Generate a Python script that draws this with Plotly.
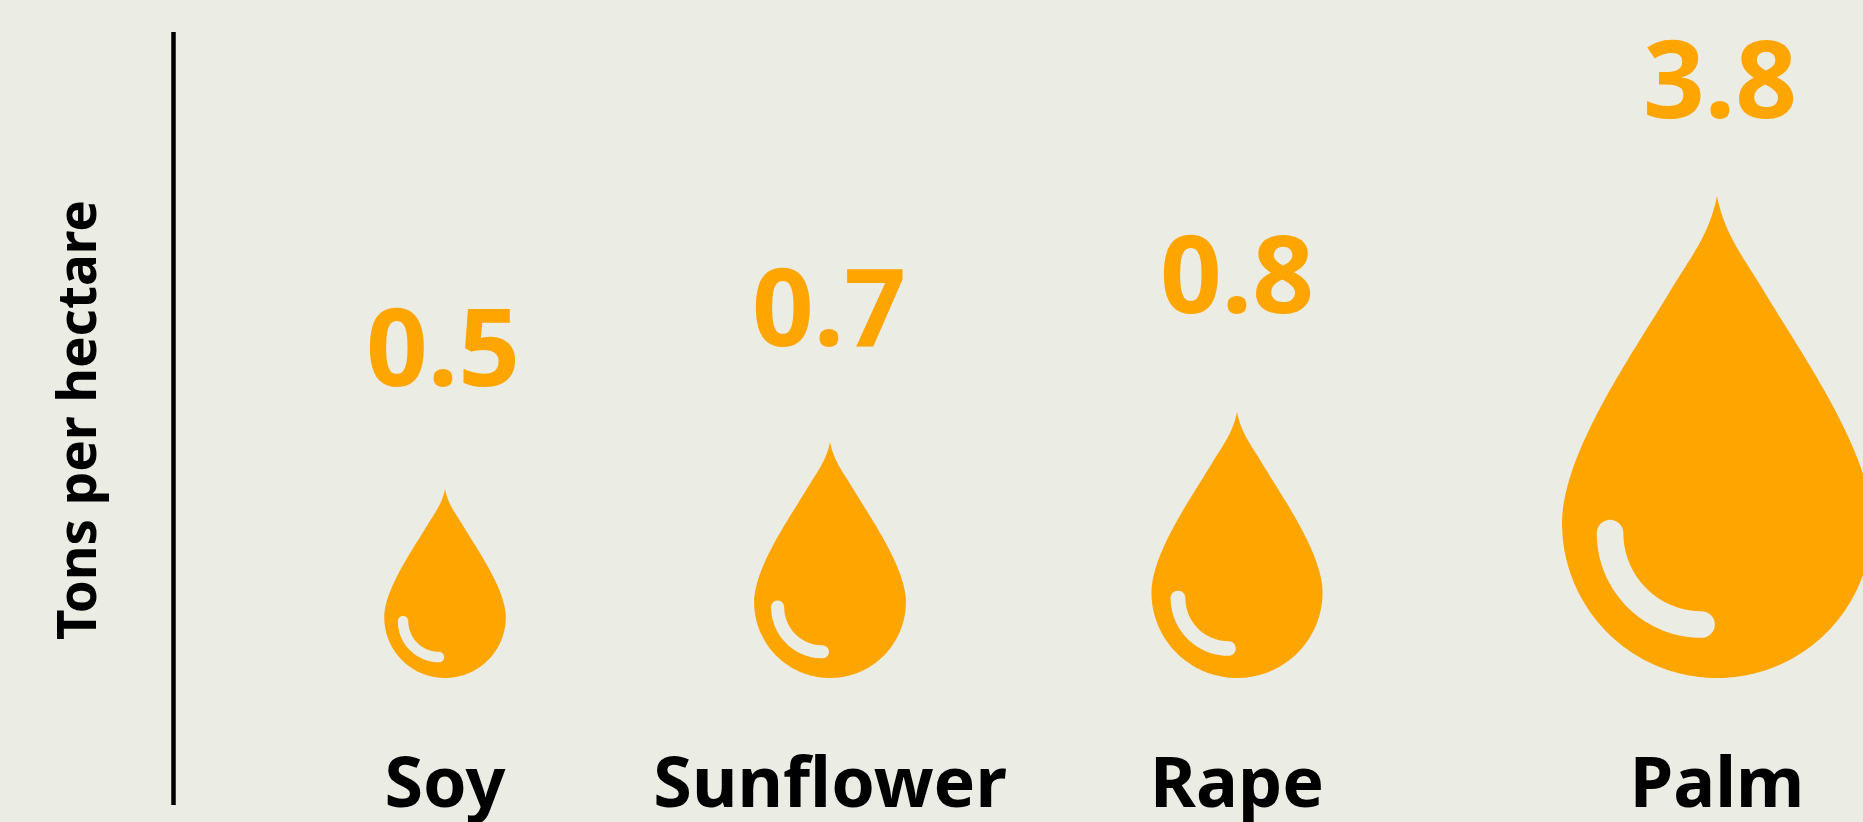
import numpy as np
import plotly.graph_objects as go

# ---- data ----
categories = ["Soy", "Sunflower", "Rape", "Palm"]
values = [0.5, 0.7, 0.8, 3.8]
value_labels = ["0.5", "0.7", "0.8", "3.8"]
axis_title = "Tons per hectare"

# ---- layout / drawing constants (pixel-like axis units) ----
W, H = 1863, 822
BG = "#EBECE4"
ORANGE = "#FFA500"
CENTER_X = [445, 830, 1237, 1717]
DROP_HEIGHT = [189, 236, 266, 482]
DROP_BOTTOM = 678
LABEL_X = [443, 829, 1237, 1720]
LABEL_Y = [359, 319, 286, 91]
CAT_Y = 789
TIP = 2.11  # tip height above circle centre, in radii


def bezier(p0, p1, p2, p3, n=60):
    t = np.linspace(0, 1, n)[:, None]
    p = [np.array(q, float) for q in (p0, p1, p2, p3)]
    return (1-t)**3*p[0] + 3*(1-t)**2*t*p[1] + 3*(1-t)*t**2*p[2] + t**3*p[3]


def drop_outline():
    a = bezier((1, 0), (1, .45), (.54, 1.10), (.30, 1.50))
    b = bezier((.30, 1.50), (.165, 1.725), (.05, 1.86), (0, TIP))
    right = np.vstack([a, b[1:]])
    left = right[::-1] * [-1, 1]
    th = np.linspace(np.pi, 2*np.pi, 120)
    bottom = np.c_[np.cos(th), np.sin(th)]
    return np.vstack([bottom, right, left[1:]])


def highlight_outline():
    cx, cy, rad, hw = -.10, -.065, .59, .086
    th = np.linspace(np.pi*1.0, np.pi*1.5, 60)
    outer = np.c_[cx+(rad+hw)*np.cos(th), cy+(rad+hw)*np.sin(th)]
    inner = np.c_[cx+(rad-hw)*np.cos(th), cy+(rad-hw)*np.sin(th)][::-1]
    cap_th = np.linspace(-np.pi/2, np.pi/2, 20)
    end = np.c_[cx+hw*np.cos(cap_th), cy-rad+hw*np.sin(cap_th)]
    cap_s = np.linspace(0, np.pi, 20)
    start = np.c_[cx-rad+hw*np.cos(cap_s), cy+hw*np.sin(cap_s)]
    return np.vstack([outer, end, inner, start, outer[:1]])


fig = go.Figure()
drop = drop_outline()
spot = highlight_outline()
for cat, val, cx, h in zip(categories, values, CENTER_X, DROP_HEIGHT):
    r = h / (1 + TIP)
    cy = DROP_BOTTOM - r
    fig.add_trace(go.Scatter(x=cx + r*drop[:, 0], y=cy - r*drop[:, 1], mode="lines",
                             fill="toself", fillcolor=ORANGE, line=dict(width=0, simplify=False),
                             name=cat, hoverinfo="name", showlegend=False))
    fig.add_trace(go.Scatter(x=cx + r*spot[:, 0], y=cy - r*spot[:, 1], mode="lines",
                             fill="toself", fillcolor=BG, line=dict(width=0, simplify=False),
                             hoverinfo="skip", showlegend=False))

fig.add_trace(go.Scatter(x=LABEL_X, y=LABEL_Y, mode="text", text=value_labels,
                         textposition="middle center", hoverinfo="skip", showlegend=False,
                         textfont=dict(family="Noto Sans", size=108, color=ORANGE, weight=700)))
fig.add_trace(go.Scatter(x=CENTER_X, y=[CAT_Y]*4, mode="text", text=categories,
                         textposition="middle center", hoverinfo="skip", showlegend=False,
                         textfont=dict(family="Noto Sans", size=70, color="#000000", weight=700)))

fig.add_annotation(x=75, y=420, xref="x", yref="y", text=axis_title, textangle=-90,
                   showarrow=False, font=dict(family="Noto Sans", size=53, color="#000000", weight=700))
fig.add_shape(type="line", x0=173.5, x1=173.5, y0=32, y1=805, xref="x", yref="y",
              line=dict(color="#000000", width=4.5))

fig.update_layout(width=W, height=H, margin=dict(l=0, r=0, t=0, b=0),
                  paper_bgcolor=BG, plot_bgcolor=BG, showlegend=False,
                  xaxis=dict(range=[0, W], visible=False, fixedrange=True),
                  yaxis=dict(range=[H, 0], visible=False, fixedrange=True))

fig.write_html("out.html", config=dict(displayModeBar=False),
               post_script="document.body.style.margin='0';document.body.style.overflow='hidden';document.body.style.background='%s';" % BG)
